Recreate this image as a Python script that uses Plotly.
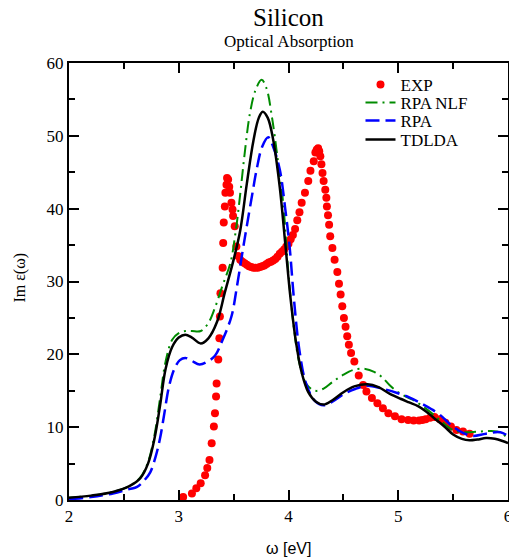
import plotly.graph_objects as go

# Experimental absorption (eV, Im eps)
exp_x = [3.04, 3.12, 3.16, 3.20, 3.24, 3.26, 3.28, 3.30, 3.32, 3.33, 3.34, 3.345,
         3.36, 3.37, 3.375, 3.38, 3.40, 3.405, 3.41, 3.42, 3.425, 3.435, 3.44, 3.45,
         3.46, 3.467, 3.48, 3.49, 3.495, 3.51, 3.525, 3.54, 3.56, 3.58, 3.60, 3.62,
         3.64, 3.66, 3.68, 3.70, 3.72, 3.74, 3.76, 3.78, 3.80, 3.82, 3.84, 3.86,
         3.88, 3.90, 3.92, 3.94, 3.96, 3.98, 4.00, 4.02, 4.04, 4.06, 4.08, 4.10,
         4.12, 4.15, 4.18, 4.20, 4.23, 4.245, 4.257, 4.27, 4.28, 4.29, 4.30, 4.31,
         4.32, 4.335, 4.345, 4.35, 4.36, 4.37, 4.38, 4.40, 4.42, 4.445, 4.46, 4.475,
         4.49, 4.505, 4.52, 4.535, 4.55, 4.57, 4.60, 4.64, 4.68, 4.71, 4.76, 4.81,
         4.86, 4.91, 4.97, 5.03, 5.09, 5.14, 5.19, 5.22, 5.25, 5.29, 5.33, 5.38,
         5.43, 5.48, 5.53, 5.59, 5.65]
exp_y = [0.4, 0.9, 1.6, 2.3, 3.4, 4.4, 5.5, 7.8, 10.1, 11.9, 14.2, 16.0,
         19.3, 22.2, 25.2, 28.4, 31.9, 35.3, 38.1, 40.3, 42.2, 43.3, 44.2, 44.0,
         43.0, 42.2, 40.8, 39.9, 39.0, 37.6, 34.8, 33.5, 33.0, 32.7, 32.5, 32.3,
         32.1, 32.0, 31.9, 31.9, 31.9, 32.0, 32.1, 32.2, 32.4, 32.6, 32.7, 32.9,
         33.1, 33.4, 33.8, 34.1, 34.4, 34.8, 35.2, 35.8, 36.4, 37.2, 38.4, 39.5,
         40.8, 42.2, 43.8, 45.2, 46.5, 47.7, 48.1, 48.3, 47.9, 47.2, 46.1, 44.9,
         43.8, 42.6, 41.5, 40.3, 39.1, 37.8, 36.2, 34.6, 33.0, 31.3, 29.7, 28.2,
         26.6, 25.0, 23.8, 22.5, 21.3, 20.2, 19.0, 17.1, 15.8, 14.9, 14.0, 13.3,
         12.6, 11.9, 11.5, 11.1, 11.0, 10.9, 10.9, 11.0, 11.1, 11.3, 11.4, 11.1,
         10.6, 10.1, 9.6, 9.4, 9.1]

# RPA without local fields
nlf_x = [2.0, 2.2, 2.4, 2.55, 2.65, 2.72, 2.78, 2.83, 2.88, 2.94, 3.0, 3.06, 3.12,
         3.2, 3.27, 3.33, 3.4, 3.47, 3.52, 3.56, 3.6, 3.65, 3.7, 3.755, 3.8, 3.85,
         3.9, 3.95, 4.0, 4.05, 4.1, 4.16, 4.24, 4.32, 4.4, 4.5, 4.6, 4.7, 4.78,
         4.85, 4.92, 4.99, 5.07, 5.14, 5.22, 5.29, 5.4, 5.5, 5.6, 5.74, 5.9, 6.0]
nlf_y = [0.3, 0.6, 1.1, 1.9, 3.1, 5.2, 9.0, 14.0, 19.0, 22.0, 22.9, 23.2, 23.2,
         23.2, 24.3, 26.4, 29.5, 32.5, 37.0, 42.0, 47.5, 53.2, 56.3, 57.7, 56.5, 52.5,
         47.0, 41.0, 31.0, 23.5, 18.7, 16.0, 15.0, 15.3, 16.2, 17.2, 17.9, 18.0, 17.6,
         16.9, 15.8, 14.9, 14.2, 13.7, 12.9, 12.1, 10.7, 9.6, 9.3, 9.4, 9.4, 8.5]

# RPA with local fields
rpa_x = [2.0, 2.2, 2.4, 2.55, 2.62, 2.68, 2.74, 2.79, 2.83, 2.87, 2.91, 2.96, 3.01,
         3.06, 3.12, 3.19, 3.26, 3.33, 3.4, 3.48, 3.53, 3.58, 3.62, 3.67, 3.71, 3.76,
         3.815, 3.86, 3.92, 3.97, 4.01, 4.05, 4.1, 4.16, 4.24, 4.32, 4.4, 4.5, 4.6,
         4.72, 4.85, 4.99, 5.1, 5.23, 5.3, 5.38, 5.48, 5.59, 5.68, 5.8, 5.93, 6.0]
rpa_y = [0.1, 0.4, 0.9, 1.5, 1.8, 2.6, 3.8, 6.0, 8.5, 12.0, 15.5, 18.0, 19.2,
         19.5, 19.1, 18.6, 19.0, 19.8, 22.0, 25.2, 29.3, 34.0, 37.6, 42.0, 45.4, 48.5,
         49.8, 48.5, 45.4, 40.0, 34.8, 27.5, 20.5, 16.0, 13.6, 13.0, 13.5, 14.5, 15.2,
         15.7, 15.3, 14.7, 14.1, 13.1, 12.5, 11.7, 10.3, 9.2, 8.8, 9.1, 9.3, 8.8]

# TDLDA
tdlda_x = [2.0, 2.2, 2.4, 2.55, 2.65, 2.72, 2.78, 2.83, 2.88, 2.94, 3.0, 3.06, 3.12,
           3.2, 3.27, 3.35, 3.42, 3.5, 3.56, 3.62, 3.68, 3.73, 3.765, 3.81, 3.86,
           3.92, 3.97, 4.02, 4.07, 4.12, 4.18, 4.25, 4.32, 4.4, 4.5, 4.6, 4.72, 4.82,
           4.92, 5.02, 5.1, 5.18, 5.25, 5.33, 5.42, 5.5, 5.58, 5.65, 5.72, 5.8, 5.88,
           5.95, 6.0]
tdlda_y = [0.3, 0.6, 1.1, 1.9, 3.0, 5.0, 8.5, 13.0, 18.0, 21.0, 22.3, 22.7, 22.3,
           21.5, 22.2, 24.5, 28.5, 33.0, 37.0, 43.4, 49.3, 52.5, 53.3, 52.5, 49.5,
           43.0, 35.3, 27.5, 21.5, 17.5, 14.8, 13.5, 13.1, 13.7, 14.8, 15.6, 15.9, 15.5,
           14.6, 13.9, 13.4, 12.9, 12.2, 11.2, 10.1, 9.0, 8.4, 8.2, 8.3, 8.5, 8.4,
           8.1, 7.8]

x_ticks = [2, 3, 4, 5, 6]
y_ticks = [0, 10, 20, 30, 40, 50, 60]

SERIF = "Liberation Serif, Times New Roman, serif"
SANS = "Liberation Sans, Arial, sans-serif"

fig = go.Figure()
fig.add_trace(go.Scatter(x=exp_x, y=exp_y, mode="markers", name="EXP",
                         marker=dict(color="#ff0000", size=8), legend="legend"))
fig.add_trace(go.Scatter(x=nlf_x, y=nlf_y, mode="lines", name="RPA NLF",
                         line=dict(color="#008b00", width=2, dash="12px,5px,2px,5px",
                                   shape="spline"), legend="legend2"))
fig.add_trace(go.Scatter(x=rpa_x, y=rpa_y, mode="lines", name="RPA",
                         line=dict(color="#0000ff", width=2.5, dash="14px,6px",
                                   shape="spline"), legend="legend3"))
fig.add_trace(go.Scatter(x=tdlda_x, y=tdlda_y, mode="lines", name="TDLDA",
                         line=dict(color="#000000", width=2.5, shape="spline"),
                         legend="legend4"))

leg_common = dict(x=0.664, xanchor="left", yanchor="middle",
                  bgcolor="rgba(0,0,0,0)", font=dict(family=SERIF, size=17, color="black"))
legend_rows = {"legend": 0.9497, "legend2": 0.9085, "legend3": 0.8673, "legend4": 0.8238}

axis_common = dict(showline=True, linecolor="black", linewidth=2, mirror="ticks",
                   ticks="inside", ticklen=10, tickwidth=1.5, tickcolor="black",
                   showgrid=False, zeroline=False, ticklabeloverflow="allow",
                   tickfont=dict(family=SERIF, size=17, color="black"),
                   automargin=False)

fig.update_layout(
    width=509, height=560,
    margin=dict(l=69, r=1, t=63, b=60),
    plot_bgcolor="white", paper_bgcolor="white",
    showlegend=True,
    xaxis=dict(range=[2, 6], tickvals=x_ticks, ticktext=[str(v) for v in x_ticks],
               minor=dict(dtick=0.5, tick0=2, ticks="inside", ticklen=6,
                          tickwidth=1.5, tickcolor="black"),
               **axis_common),
    yaxis=dict(range=[0, 60], tickvals=y_ticks, ticktext=[str(v) for v in y_ticks],
               minor=dict(dtick=5, tick0=0, ticks="inside", ticklen=6,
                          tickwidth=1.5, tickcolor="black"),
               **axis_common),
    annotations=[
        dict(text="Silicon", x=0.5, y=1.103, xref="paper", yref="paper",
             showarrow=False, yanchor="middle",
             font=dict(family=SERIF, size=25, color="black")),
        dict(text="Optical Absorption", x=0.5, y=1.050, xref="paper", yref="paper",
             showarrow=False, yanchor="middle",
             font=dict(family=SERIF, size=17, color="black")),
        dict(text="Im ε(ω)", x=-0.1105, y=0.510, xref="paper", yref="paper",
             showarrow=False, textangle=-90, xanchor="center", yanchor="middle",
             font=dict(family=SERIF, size=16, color="black")),
        dict(text="ω [eV]", x=0.5, y=-0.112, xref="paper", yref="paper",
             showarrow=False, xanchor="center", yanchor="middle",
             font=dict(family=SANS, size=16, color="black")),
    ],
)
for name, ypos in legend_rows.items():
    fig.update_layout({name: dict(y=ypos, **leg_common)})

fig.write_html("out.html")
